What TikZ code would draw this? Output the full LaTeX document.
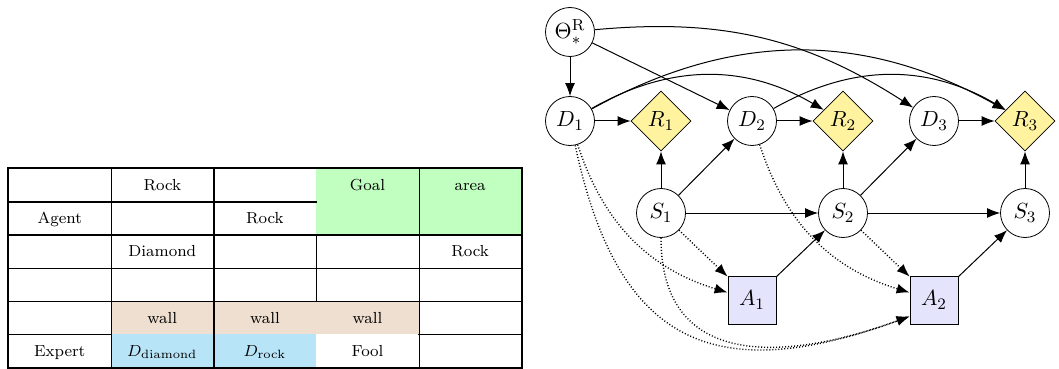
\documentclass[tikz,border=0pt]{standalone}
\usepackage{amsmath}
\usepackage{amssymb}
\usepackage{xcolor}
\usepackage{tikz}
\usetikzlibrary{
  matrix,
  positioning,
  shapes.geometric,
  arrows.meta
}

\definecolor{goalgreen}{RGB}{192,255,192}
\definecolor{wallbeige}{RGB}{238,223,208}
\definecolor{expblue}{RGB}{184,228,248}
\definecolor{utilyellow}{RGB}{255,243,160}
\definecolor{actblue}{RGB}{228,228,252}

\newcommand{\gfont}{\fontsize{11}{13}\selectfont}

\begin{document}
\begin{tikzpicture}[auto,
    node distance={45pt and 45.5pt}, on grid,
    cell/.style={rectangle, minimum width=51.3pt, minimum height=16.58pt, inner sep=0pt,
      text centered, text height=1.5ex, text depth=.25ex, font=\footnotesize},
    goal/.style={cell, fill=goalgreen},
    wall/.style={cell, fill=wallbeige},
    expert/.style={cell, fill=expblue},
    grid line/.style={line width=0.7pt},
    var/.style={circle, draw, minimum size=24.5pt, inner sep=0pt, font=\gfont},
    util/.style={diamond, draw, fill=utilyellow, minimum size=30pt, inner sep=0pt, font=\gfont},
    act/.style={rectangle, draw, fill=actblue, minimum size=24pt, inner sep=0pt, font=\gfont},
    link/.style={-{Latex[length=6.5pt,width=5pt]}, line width=0.5pt},
    dep/.style={link, densely dotted, line width=0.7pt}]
\useasboundingbox (0,0) rectangle (529.5pt,-184.5pt);

% grid world
\matrix (m) [matrix anchor=north west, column sep=0pt, row sep=0pt, inner sep=0pt]
  at (4pt,-84pt)
{
\node [cell] (m-1-1) {}; &
\node [cell] (m-1-2) {Rock}; &
\node [cell] (m-1-3) {}; &
\node [goal] (m-1-4) {Goal}; &
\node [goal] (m-1-5) {area}; \\
\node [cell] (m-2-1) {Agent}; &
\node [cell] (m-2-2) {}; &
\node [cell] (m-2-3) {Rock}; &
\node [goal] (m-2-4) {}; &
\node [goal] (m-2-5) {}; \\
\node [cell] (m-3-1) {}; &
\node [cell] (m-3-2) {Diamond}; &
\node [cell] (m-3-3) {}; &
\node [cell] (m-3-4) {}; &
\node [cell] (m-3-5) {Rock}; \\
\node [cell] (m-4-1) {}; &
\node [cell] (m-4-2) {}; &
\node [cell] (m-4-3) {}; &
\node [cell] (m-4-4) {}; &
\node [cell] (m-4-5) {}; \\
\node [cell] (m-5-1) {}; &
\node [wall] (m-5-2) {wall}; &
\node [wall] (m-5-3) {wall}; &
\node [wall] (m-5-4) {wall}; &
\node [cell] (m-5-5) {}; \\
\node [cell] (m-6-1) {Expert}; &
\node [expert] (m-6-2) {$D_{\mathrm{diamond}}$}; &
\node [expert] (m-6-3) {$D_{\mathrm{rock}}$}; &
\node [cell] (m-6-4) {Fool}; &
\node [cell] (m-6-5) {}; \\
};
\draw [grid line] (m-1-1.south west) -- (m-1-3.south east);
\foreach \r in {2,3,4}
  \draw [grid line] (m-\r-1.south west) -- (m-\r-5.south east);
\draw [grid line] (m-5-1.south west) -- (m-5-1.south east);
\draw [grid line] (m-5-5.south west) -- (m-5-5.south east);
\foreach \c in {1,2,4}
  \draw [grid line] (m-1-\c.north east) -- (m-6-\c.south east);
\draw [grid line] (m-3-3.north east) -- (m-4-3.south east);
\draw [line width=1.2pt] (m-1-1.north west) rectangle (m-6-5.south east);

% influence diagram
\node [var] (theta) at (285pt,-16pt) {$\Theta^{\mathrm{R}}_{*}$};
\node [var, below=44.5pt of theta] (d1) {$D_1$};
\node [util, right=of d1] (r1) {$R_1$};
\node [var, right=of r1] (d2) {$D_2$};
\node [util, right=of d2] (r2) {$R_2$};
\node [var, right=of r2] (d3) {$D_3$};
\node [util, right=of d3] (r3) {$R_3$};
\node [var, below=46pt of r1] (s1) {$S_1$};
\node [var, right=91pt of s1] (s2) {$S_2$};
\node [var, right=91pt of s2] (s3) {$S_3$};
\node [act, below right=43.5pt and 45.5pt of s1] (a1) {$A_1$};
\node [act, right=91pt of a1] (a2) {$A_2$};

\draw [link] (theta) -- (d1);
\draw [link] (theta) -- (d2);
\draw [link] (theta) to [bend left=19] (d3);
\draw [link] (d1) -- (r1);
\draw [link] (d2) -- (r2);
\draw [link] (d3) -- (r3);
\draw [link] (d1) to [bend left=30] (r2);
\draw [link] (d1) to [bend left=29] (r3);
\draw [link] (d2) to [bend left=30] (r3);
\draw [link] (s1) -- (r1);
\draw [link] (s2) -- (r2);
\draw [link] (s3) -- (r3);
\draw [link] (s1) -- (d2);
\draw [link] (s2) -- (d3);
\draw [link] (s1) -- (s2);
\draw [link] (s2) -- (s3);
\draw [link] (a1) -- (s2);
\draw [link] (a2) -- (s3);

\draw [dep] (s1) -- (a1);
\draw [dep] (s2) -- (a2);
\draw [dep] (d1) to [out=-72, in=163] (a1);
\draw [dep] (d2) to [out=-72, in=163] (a2);
\draw [dep] (d1) to [out=-78, in=200, looseness=1.4] ([yshift=4pt]a2.south west);
\draw [dep] (s1) to [out=-90, in=200, looseness=1.3] ([yshift=4pt]a2.south west);
\end{tikzpicture}
\end{document}
